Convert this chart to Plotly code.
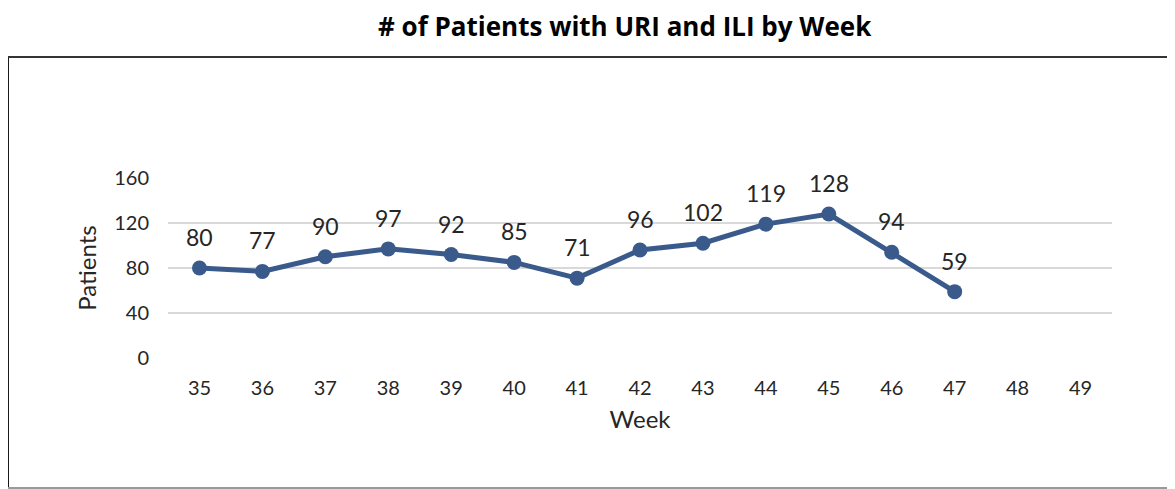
import plotly.graph_objects as go

weeks = ["35", "36", "37", "38", "39", "40", "41", "42", "43", "44", "45", "46", "47", "48", "49"]
patients = [80, 77, 90, 97, 92, 85, 71, 96, 102, 119, 128, 94, 59, None, None]
y_ticks = [0, 40, 80, 120, 160]

line_color = "#3A5A8C"
font_family = "Lato, 'DejaVu Sans', sans-serif"
text_color = "#262626"

fig = go.Figure()
fig.add_trace(go.Scatter(
    x=weeks, y=patients, mode="lines+markers",
    line=dict(color=line_color, width=5),
    marker=dict(color=line_color, size=15),
    showlegend=False, hoverinfo="x+y",
))

annotations = []
for i, v in enumerate(patients):
    if v is not None:
        annotations.append(dict(x=i, y=v, xref="x", yref="y", text=str(v), showarrow=False,
                                yshift=31, font=dict(size=23, color=text_color, family=font_family)))

px = lambda p: (p - 168) / 944
py = lambda p: (358 - p) / 180

# Title
annotations.append(dict(text="<b># of Patients with URI and ILI by Week</b>", xref="paper", yref="paper",
                        x=px(625), y=py(6), xanchor="center", yanchor="top",
                        showarrow=False, font=dict(family="'Open Sans', sans-serif", size=26, color="#000000")))

shapes = [
    dict(type="line", xref="paper", yref="paper", x0=px(8), x1=px(8), y0=py(57), y1=py(488),
         line=dict(color="#1a1a1a", width=2)),
    dict(type="line", xref="paper", yref="paper", x0=px(8), x1=px(1176), y0=py(57), y1=py(57),
         line=dict(color="#333333", width=2)),
    dict(type="line", xref="paper", yref="paper", x0=px(8), x1=px(1176), y0=py(488), y1=py(488),
         line=dict(color="#999999", width=2)),
]

# page body has an 8px margin, so margins are compensated to keep the plot area at screen pixels
fig.update_layout(
    width=1175, height=489,
    margin=dict(l=160, r=71, t=170, b=139),
    paper_bgcolor="white", plot_bgcolor="white",
    font=dict(family=font_family, color=text_color),
    annotations=annotations, shapes=shapes,
    xaxis=dict(type="category", range=[-0.5, 14.5], showgrid=False, zeroline=False,
               showline=False, ticks="", tickfont=dict(size=20), ticklabelstandoff=16,
               title=dict(text="Week", font=dict(size=24), standoff=13)),
    yaxis=dict(range=[0, 160], tickvals=y_ticks, showgrid=True, gridcolor="#D9D9D9", gridwidth=2,
               zeroline=False, showline=False, ticks="", tickfont=dict(size=20), ticklabelstandoff=18,
               title=dict(text="Patients", font=dict(size=24), standoff=10)),
)

fig.write_html("out.html")
